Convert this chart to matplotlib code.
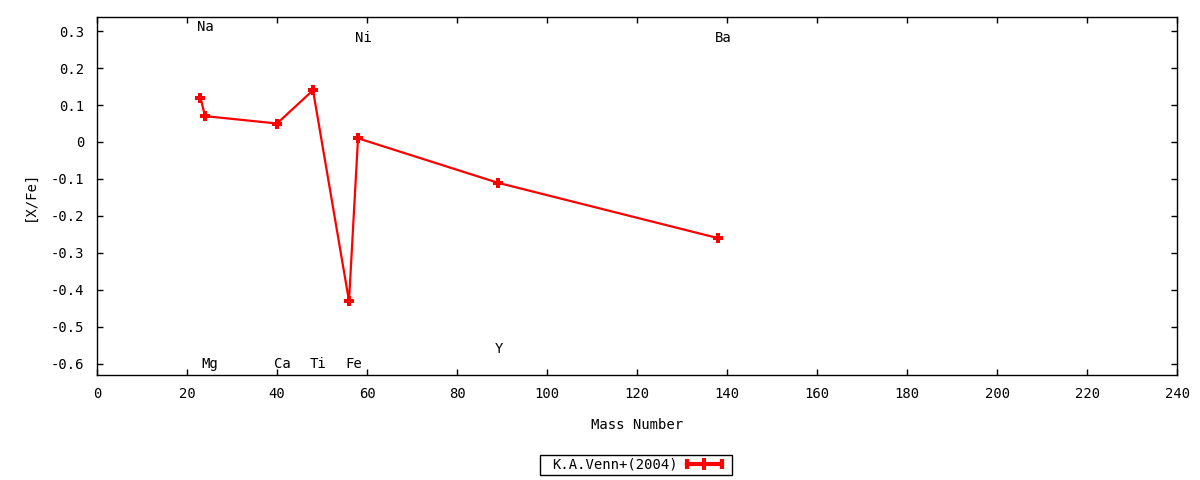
import matplotlib
matplotlib.use("Agg")
import matplotlib.pyplot as plt
from matplotlib.lines import Line2D
from matplotlib.patches import Rectangle
from matplotlib.legend_handler import HandlerBase
from matplotlib.ticker import FuncFormatter, MultipleLocator

# Data
elements = ["Na", "Mg", "Ca", "Ti", "Fe", "Ni", "Y", "Ba"]
mass_number = [23, 24, 40, 48, 56, 58, 89, 138]
x_fe = [0.12, 0.07, 0.05, 0.14, -0.43, 0.01, -0.11, -0.26]
label_y = [0.31, -0.60, -0.60, -0.60, -0.60, 0.28, -0.56, 0.28]
series_name = "K.A.Venn+(2004)"

plt.rcParams["font.family"] = ["DejaVu Sans Mono"]
plt.rcParams["font.size"] = 10

fig = plt.figure(figsize=(12, 4.8), dpi=100)
ax = fig.add_axes([0.0808, 0.21875, 0.9002, 0.74585])

red = "#ff0000"
line, = ax.plot(mass_number, x_fe, color=red, lw=1.6, marker="P", ms=7.8,
                mew=0, zorder=3)

for el, m, ly in zip(elements, mass_number, label_y):
    ax.text(m - 0.7, ly, el, ha="left", va="center", fontsize=10)

ax.set_xlim(0, 240)
ax.set_ylim(-0.63, 0.338)
ax.xaxis.set_major_locator(MultipleLocator(20))
ax.yaxis.set_major_locator(MultipleLocator(0.1))

def fmt(v, pos):
    v = round(v, 6)
    if abs(v) < 1e-9:
        return "0"
    return ("%g" % v).replace("\u2212", "-")

ax.xaxis.set_major_formatter(FuncFormatter(fmt))
ax.yaxis.set_major_formatter(FuncFormatter(fmt))
ax.tick_params(direction="in", length=4, width=1, top=True, right=True,
               labelsize=10, color="black")
ax.tick_params(axis="x", pad=9)
ax.tick_params(axis="y", pad=9)
for s in ax.spines.values():
    s.set_linewidth(1)

ax.set_xlabel("Mass Number", fontsize=10, labelpad=12)
ax.set_ylabel("[X/Fe]", fontsize=10, labelpad=10)


class ErrLineHandler(HandlerBase):
    def create_artists(self, legend, orig_handle, xdescent, ydescent,
                       width, height, fontsize, trans):
        y = height / 2 - ydescent
        x0, x1 = -xdescent, width - xdescent
        ln = Line2D([x0, x1], [y, y], color=red, lw=3, transform=trans)
        caps = Line2D([x0, x1], [y, y], color=red, ls="none", marker="|",
                      ms=7, mew=3, transform=trans)
        mid = Line2D([(x0 + x1) / 2], [y], color=red, ls="none", marker="P",
                     ms=8.5, mew=0, transform=trans)
        return [ln, caps, mid]


leg = fig.legend([line], [series_name],
                 handler_map={line: ErrLineHandler()},
                 loc="center left", bbox_to_anchor=(552 / 1200, 1 - 465 / 480),
                 markerfirst=False, frameon=False, handlelength=2.55,
                 borderpad=0, borderaxespad=0, handletextpad=0.65,
                 fontsize=10)

# gnuplot-style key box
fig.patches.append(Rectangle((540 / 1200, 1 - 475 / 480), 192 / 1200, 20 / 480,
                             transform=fig.transFigure, fill=False,
                             edgecolor="black", linewidth=1))

fig.savefig("out.png", dpi=100)
